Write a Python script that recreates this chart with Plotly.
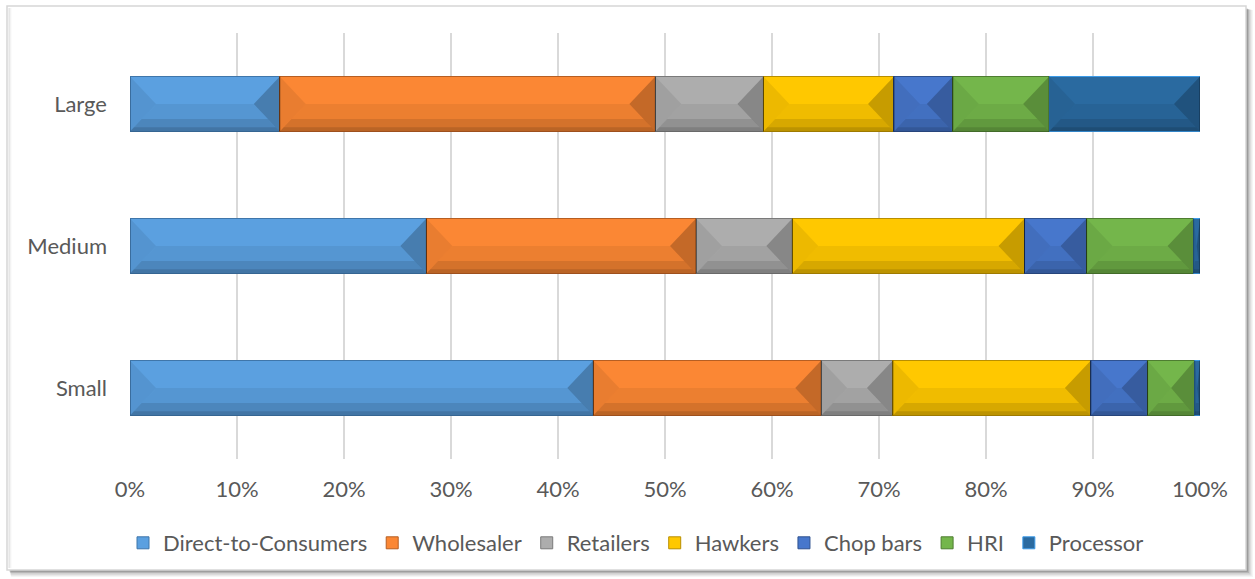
import plotly.graph_objects as go

# Distribution channel shares (%) by farm size
sizes = ["Small", "Medium", "Large"]
channels = ["Direct-to-Consumers", "Wholesaler", "Retailers", "Hawkers",
            "Chop bars", "HRI", "Processor"]
direct_to_consumers = [43.3, 27.7, 14.0]
wholesaler = [21.3, 25.2, 35.1]
retailers = [6.7, 9.0, 10.1]
hawkers = [18.5, 21.7, 12.2]
chop_bars = [5.3, 5.8, 5.5]
hri = [4.4, 10.0, 9.0]
processor = [0.5, 0.6, 14.1]
x_ticks = list(range(0, 101, 10))
x_tick_labels = [f"{t}%" for t in x_ticks]

series = [direct_to_consumers, wholesaler, retailers, hawkers, chop_bars, hri, processor]
colors = ["#5BA0E0", "#FB8734", "#ADADAD", "#FFC800", "#4777CC", "#74B64B", "#2A6AA0"]
edge_colors = ["#3F76AA", "#B65E22", "#7A7A7A", "#B88E00", "#2F528F", "#4E7D31", "#3C9BE8"]

FONT = "Lato"
FS = 22
W, H = 1255, 579
ML, MR, MT, MB = 130, 55, 33, 120
PLOT_W = W - ML - MR
PLOT_H = H - MT - MB
BAR_W = 0.387          # bar thickness in category units
PX_PER_X = PLOT_W / 100.0
BEVEL_PX = 26

fig = go.Figure()
for name, vals, col, ec in zip(channels, series, colors, edge_colors):
    fig.add_trace(go.Bar(
        y=sizes, x=vals, name=name, orientation="h",
        marker=dict(color=col, line=dict(color=ec, width=1)),
        width=BAR_W, hoverinfo="x+y+name",
    ))

# Bevel shading for each stacked segment, computed from the data
shapes = []
for ci, cat in enumerate(sizes):
    left = 0.0
    top = ci + BAR_W / 2
    bot = ci - BAR_W / 2
    mid = float(ci)
    for vals in series:
        v = vals[ci]
        x0, x1 = left, left + v
        b = min(BEVEL_PX / PX_PER_X, v / 2)
        # left facet
        shapes.append(dict(type="path", xref="x", yref="y", layer="above",
                           path=f"M{x0},{top} L{x0 + b},{mid} L{x0},{bot} Z",
                           fillcolor="rgba(0,0,0,0.07)", line=dict(width=0)))
        # right facet
        shapes.append(dict(type="path", xref="x", yref="y", layer="above",
                           path=f"M{x1},{top} L{x1 - b},{mid} L{x1},{bot} Z",
                           fillcolor="rgba(0,0,0,0.22)", line=dict(width=0)))
        # bottom facet, darker toward the lower edge
        shapes.append(dict(type="path", xref="x", yref="y", layer="above",
                           path=f"M{x0},{bot} L{x0 + b},{mid} L{x1 - b},{mid} L{x1},{bot} Z",
                           fillcolor="rgba(0,0,0,0.06)", line=dict(width=0)))
        f = 0.45
        yb = bot + (mid - bot) * f
        shapes.append(dict(type="path", xref="x", yref="y", layer="above",
                           path=f"M{x0},{bot} L{x0 + b * f},{yb} L{x1 - b * f},{yb} L{x1},{bot} Z",
                           fillcolor="rgba(0,0,0,0.10)", line=dict(width=0)))
        f2 = 0.15
        yb2 = bot + (mid - bot) * f2
        shapes.append(dict(type="path", xref="x", yref="y", layer="above",
                           path=f"M{x0},{bot} L{x0 + b * f2},{yb2} L{x1 - b * f2},{yb2} L{x1},{bot} Z",
                           fillcolor="rgba(0,0,0,0.12)", line=dict(width=0)))
        # dark seam at the right end of the segment
        shapes.append(dict(type="line", xref="x", yref="y", layer="above",
                           x0=x1, x1=x1, y0=bot, y1=top,
                           line=dict(color="rgba(0,0,0,0.45)", width=1)))
        left = x1


def px_x(px):
    return (px - ML) / PLOT_W


def px_y(py):
    return (H - MB - py) / PLOT_H


# Chart frame with soft drop shadow on the right and bottom
for i, a in enumerate([0.05, 0.08, 0.12, 0.18, 0.25]):
    off = 7 - i * 1.3
    shapes.append(dict(type="rect", xref="paper", yref="paper", layer="below",
                       x0=px_x(9 + off * 0.3), x1=px_x(1246 + off),
                       y0=px_y(8 + off * 0.3), y1=px_y(570 + off),
                       fillcolor=f"rgba(60,60,60,{a})", line=dict(width=0)))
shapes.append(dict(type="rect", xref="paper", yref="paper", layer="below",
                   x0=px_x(7), x1=px_x(1246), y0=px_y(6), y1=px_y(570),
                   fillcolor="white", line=dict(color="#D6D6D6", width=1.5)))
for i, a in enumerate([0.10, 0.06, 0.03]):
    shapes.append(dict(type="line", xref="paper", yref="paper", layer="below",
                       x0=px_x(9 + i), x1=px_x(9 + i), y0=px_y(8), y1=px_y(568),
                       line=dict(color=f"rgba(0,0,0,{a})", width=1.2)))

fig.update_layout(
    width=W, height=H,
    margin=dict(l=ML, r=MR, t=MT, b=MB),
    paper_bgcolor="white", plot_bgcolor="rgba(0,0,0,0)",
    barmode="stack",
    shapes=shapes,
    font=dict(family=FONT, color="#595959", size=FS),
    showlegend=True,
    legend=dict(orientation="h", x=px_x(636), xanchor="center",
                y=px_y(543), yanchor="middle", traceorder="normal",
                font=dict(family=FONT, size=FS, color="#595959"),
                itemwidth=30, entrywidthmode="pixels",
                bgcolor="rgba(0,0,0,0)"),
    xaxis=dict(range=[0, 100], tickvals=x_ticks, ticktext=x_tick_labels,
               showgrid=True, gridcolor="#D9D9D9", gridwidth=1.5,
               zeroline=False, showline=False, ticks="",
               ticklabelstandoff=15, fixedrange=True,
               tickfont=dict(family=FONT, size=FS, color="#595959")),
    yaxis=dict(categoryorder="array", categoryarray=sizes,
               range=[-0.5, 2.5], showgrid=False, zeroline=False,
               showline=False, ticks="", ticklabelstandoff=22, fixedrange=True,
               tickfont=dict(family=FONT, size=FS, color="#595959")),
)

fig.write_html("out.html")
